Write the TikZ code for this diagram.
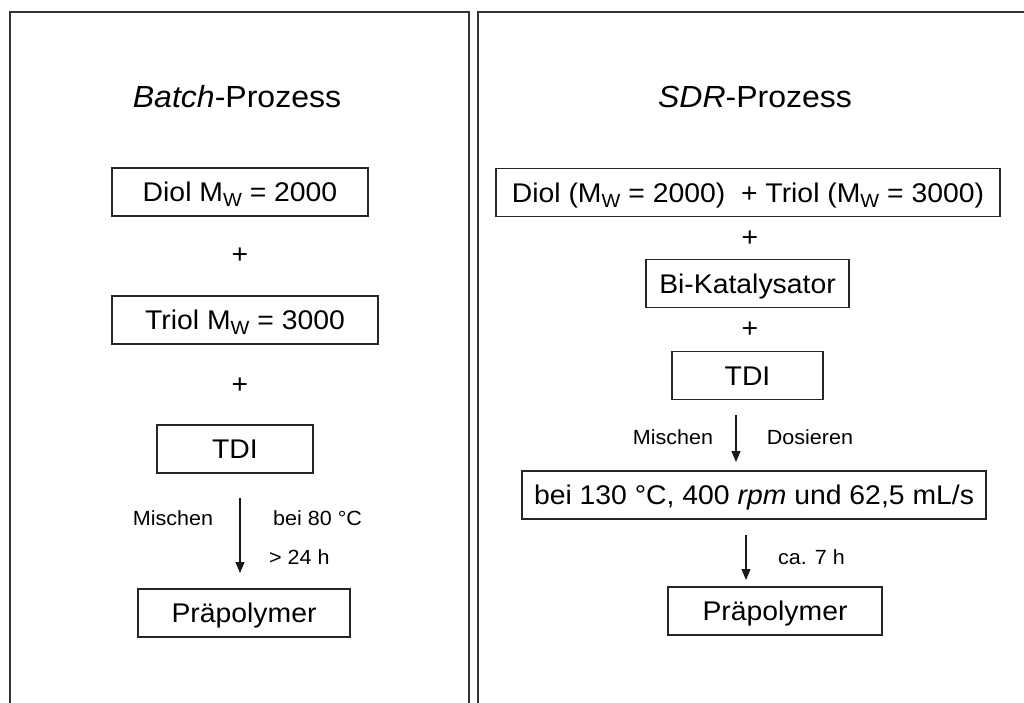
\documentclass[tikz,border=0pt]{standalone}
\usepackage{fontspec}
\setmainfont{Liberation Sans}[FakeStretch=1.05]
\usetikzlibrary{arrows.meta}
\newcommand{\boxfont}{\fontsize{27}{30}\selectfont}
\newcommand{\titlefont}{\fontsize{30.5}{34}\selectfont}
\newcommand{\lblfont}{\fontsize{20.5}{24}\selectfont}
\newcommand{\mysub}[1]{\raisebox{-0.35ex}{\fontsize{19}{21}\selectfont #1}}
\begin{document}
\begin{tikzpicture}[x=1pt,y=-1pt,
  panel/.style={draw=black!80, line width=1.6pt},
  box/.style={draw=black!85, line width=1.4pt, minimum height=48pt, inner sep=0pt, font=\boxfont, text height=19.5pt, text depth=0pt},
  ttl/.style={inner sep=0pt, font=\titlefont, text height=22pt, text depth=0pt},
  plus/.style={inner sep=0pt, font=\boxfont},
  lbl/.style={inner sep=0pt, font=\lblfont, text height=15pt, text depth=0pt},
  arr/.style={-{Triangle[length=11pt,width=9pt]}, line width=1.2pt, draw=black!90}]
\useasboundingbox (0,0) rectangle (1024,702);
\clip (0,0) rectangle (1024,702);
% panels
\draw[panel] (10,730) -- (10,12) -- (469,12) -- (469,730);
\draw[panel] (478,730) -- (478,12) -- (1040,12);
% left panel
\node[ttl] (lt) at (237,96) {\textit{Batch}-Prozess};
\node[box, minimum width=256pt] (b1) at (240,192) {Diol M\mysub{W} = 2000};
\node[plus] (lp1) at (240,256) {+};
\node[box, minimum width=266pt] (b2) at (245,320) {Triol M\mysub{W} = 3000};
\node[plus] (lp2) at (240,386) {+};
\node[box, minimum width=156pt] (b3) at (235,449) {TDI};
\node[box, minimum width=212pt] (b4) at (244,613) {Präpolymer};
\coordinate (a1s) at (240,498);
\coordinate (a1e) at (240,573);
\draw[arr] (a1s) -- (a1e);
\node[lbl] (l1) at (173,518) {Mischen};
\node[lbl, anchor=west] (l2) at (273,518) {bei 80 °C};
\node[lbl, anchor=west] (l3) at (269,557) {> 24 h};
% right panel
\node[ttl] (rt) at (755,96) {\textit{SDR}-Prozess};
\node[box, minimum width=504pt] (r1) at (748,192.5) {Diol (M\mysub{W} = 2000)\ \ + Triol (M\mysub{W} = 3000)};
\node[plus] (rp1) at (750,239) {+};
\node[box, minimum width=203pt] (r2) at (747.5,283.5) {Bi-Katalysator};
\node[plus] (rp2) at (750,330) {+};
\node[box, minimum width=151pt] (r3) at (747.5,375.5) {TDI};
\node[box, minimum width=464pt] (r4) at (754,495) {bei 130 °C, 400 \textit{rpm} und 62,5 mL/s};
\node[box, minimum width=214pt] (r5) at (775,611) {Präpolymer};
\coordinate (a2s) at (736,415);
\coordinate (a2e) at (736,462);
\draw[arr] (a2s) -- (a2e);
\coordinate (a3s) at (746,535);
\coordinate (a3e) at (746,580);
\draw[arr] (a3s) -- (a3e);
\node[lbl] (m1) at (673,437) {Mischen};
\node[lbl] (m2) at (810,437) {Dosieren};
\node[lbl, anchor=west] (m3) at (778,557) {ca. 7 h};
\end{tikzpicture}
\end{document}
